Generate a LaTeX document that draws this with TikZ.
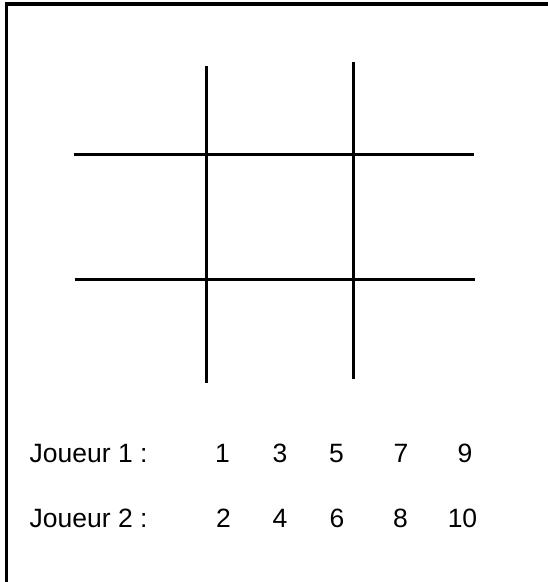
\documentclass[tikz,border=0pt]{standalone}
\usepackage{fontspec}
\setmainfont{Liberation Sans}
\begin{document}
\begin{tikzpicture}[x=1pt,y=-1pt,
  gridline/.style={line width=3.4pt},
  frameline/.style={line width=3.6pt},
  lbl/.style={anchor=base west,inner sep=0pt,font=\fontsize{26.5}{30}\selectfont},
  num/.style={anchor=base,inner sep=0pt,font=\fontsize{26.5}{30}\selectfont}]
\useasboundingbox (0,0) rectangle (548,582);
% frame
\coordinate (fb) at (6.5,584);
\coordinate (fc) at (6.5,4);
\coordinate (fr) at (550,4);
\draw[frameline,line join=miter] (fb) -- (fc) -- (fr);
% grid
\coordinate (v1t) at (206.5,66);
\coordinate (v1b) at (206.5,382.5);
\coordinate (v2t) at (353.5,62);
\coordinate (v2b) at (353.5,378.5);
\coordinate (h1l) at (73.5,154.5);
\coordinate (h1r) at (473.5,154.5);
\coordinate (h2l) at (74.5,279.5);
\coordinate (h2r) at (474.5,279.5);
\draw[gridline] (v1t) -- (v1b);
\draw[gridline] (v2t) -- (v2b);
\draw[gridline] (h1l) -- (h1r);
\draw[gridline] (h2l) -- (h2r);
% texts
\node[lbl] (j1) at (29.5,462) {Joueur 1 :};
\node[lbl] (j2) at (29.5,527) {Joueur 2 :};
\node[num] (n1) at (222.5,462) {1};
\node[num] (n3) at (280,462) {3};
\node[num] (n5) at (336.5,462) {5};
\node[num] (n7) at (401,462) {7};
\node[num] (n9) at (465,462) {9};
\node[num] (n2) at (223.5,527) {2};
\node[num] (n4) at (280,527) {4};
\node[num] (n6) at (337,527) {6};
\node[num] (n8) at (400.5,527) {8};
\node[num] (n10) at (462.5,527) {10};
\end{tikzpicture}
\end{document}
